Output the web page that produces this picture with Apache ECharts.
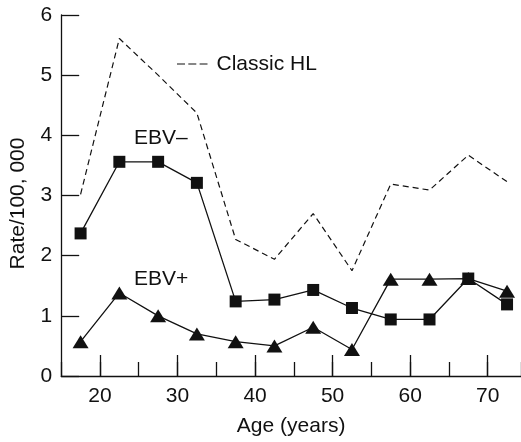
<!DOCTYPE html>
<html>
<head>
<meta charset="utf-8">
<script src="https://cdn.jsdelivr.net/npm/echarts@6/dist/echarts.min.js"></script>
<style>
html,body{margin:0;padding:0;background:#fff;}
#chart{width:521px;height:442px;}
</style>
</head>
<body>
<div id="chart"></div>
<script>
// Data
var ages = [17.5, 22.5, 27.5, 32.5, 37.5, 42.5, 47.5, 52.5, 57.5, 62.5, 67.5, 72.5];
var classicHL = [3.02, 5.61, 5.0, 4.37, 2.27, 1.94, 2.70, 1.75, 3.19, 3.09, 3.67, 3.23];
var ebvNeg = [2.37, 3.56, 3.56, 3.21, 1.24, 1.27, 1.43, 1.13, 0.94, 0.94, 1.62, 1.19];
var ebvPos = [0.57, 1.38, 1.0, 0.70, 0.57, 0.50, 0.81, 0.44, 1.61, 1.61, 1.62, 1.41];
var xTickLabels = [20, 30, 40, 50, 60, 70];
var yTickLabels = [0, 1, 2, 3, 4, 5, 6];
var labelClassic = 'Classic HL';
var labelNeg = 'EBV\u2013';
var labelPos = 'EBV+';
var xName = 'Age (years)';
var yName = 'Rate/100, 000';

function pairs(vals) { return ages.map(function (a, i) { return [a, vals[i]]; }); }

var FONT = '"Liberation Sans", Arial, Helvetica, sans-serif';
var INK = '#111';

var chart = echarts.init(document.getElementById('chart'), null, {renderer: 'canvas'});
chart.setOption({
  backgroundColor: '#fff',
  animation: false,
  grid: [
    {left: 61.2, right: 0, top: 15, bottom: 66, containLabel: false, outerBoundsMode: 'none'},
    {left: 100, right: 33.3, top: 15, bottom: 66, containLabel: false, outerBoundsMode: 'none'}
  ],
  xAxis: [
    {
      type: 'value', gridIndex: 0, min: 15, max: 74.3, interval: 5,
      axisLine: {show: true, lineStyle: {color: INK, width: 1.3}},
      axisTick: {show: true, inside: true, length: 14, lineStyle: {color: INK, width: 1.3}},
      axisLabel: {show: false},
      splitLine: {show: false},
      name: xName, nameLocation: 'middle', nameGap: 40, nameMoveOverlap: false,
      nameTextStyle: {fontFamily: FONT, fontSize: 21, color: INK}
    },
    {
      type: 'value', gridIndex: 1, min: xTickLabels[0], max: xTickLabels[xTickLabels.length - 1], interval: 10,
      axisLine: {show: false},
      axisTick: {show: true, inside: true, length: 21, lineStyle: {color: INK, width: 1.3}},
      axisLabel: {show: true, margin: 10, fontFamily: FONT, fontSize: 21, color: INK},
      splitLine: {show: false}
    }
  ],
  yAxis: [
    {
      type: 'value', gridIndex: 0, min: yTickLabels[0], max: yTickLabels[yTickLabels.length - 1], interval: 1,
      axisLine: {show: true, lineStyle: {color: INK, width: 1.3}},
      axisTick: {show: true, inside: true, length: 18, lineStyle: {color: INK, width: 1.3}},
      axisLabel: {show: true, margin: 9, align: 'right', fontFamily: FONT, fontSize: 21, color: INK},
      splitLine: {show: false},
      name: yName, nameLocation: 'middle', nameRotate: 90, nameGap: 32, nameMoveOverlap: false,
      nameTextStyle: {fontFamily: FONT, fontSize: 21, color: INK, padding: [0, 16, 0, 0]}
    },
    {
      type: 'value', gridIndex: 1, min: 0, max: 6, show: false
    }
  ],
  series: [
    {
      type: 'line', xAxisIndex: 0, yAxisIndex: 0, data: pairs(classicHL),
      showSymbol: false, symbol: 'none',
      lineStyle: {color: INK, width: 1.2, type: [6, 4]}
    },
    {
      type: 'line', xAxisIndex: 0, yAxisIndex: 0, data: pairs(ebvNeg),
      symbol: 'rect', symbolSize: 12,
      itemStyle: {color: INK},
      lineStyle: {color: INK, width: 1.3}
    },
    {
      type: 'line', xAxisIndex: 0, yAxisIndex: 0, data: pairs(ebvPos),
      symbol: 'triangle', symbolSize: [16, 13],
      itemStyle: {color: INK},
      lineStyle: {color: INK, width: 1.3}
    }
  ],
  graphic: [
    {type: 'line', shape: {x1: 177, y1: 64, x2: 207.5, y2: 64},
     style: {stroke: INK, lineWidth: 1.2, lineDash: [8, 3.3]}},
    {type: 'text', x: 216.5, y: 64.5,
     style: {text: labelClassic, font: '21px ' + FONT, fill: INK, align: 'left', verticalAlign: 'middle'}},
    {type: 'text', x: 134, y: 138.5,
     style: {text: labelNeg, font: '21px ' + FONT, fill: INK, align: 'left', verticalAlign: 'middle'}},
    {type: 'text', x: 134, y: 279,
     style: {text: labelPos, font: '21px ' + FONT, fill: INK, align: 'left', verticalAlign: 'middle'}}
  ]
});
</script>
</body>
</html>
